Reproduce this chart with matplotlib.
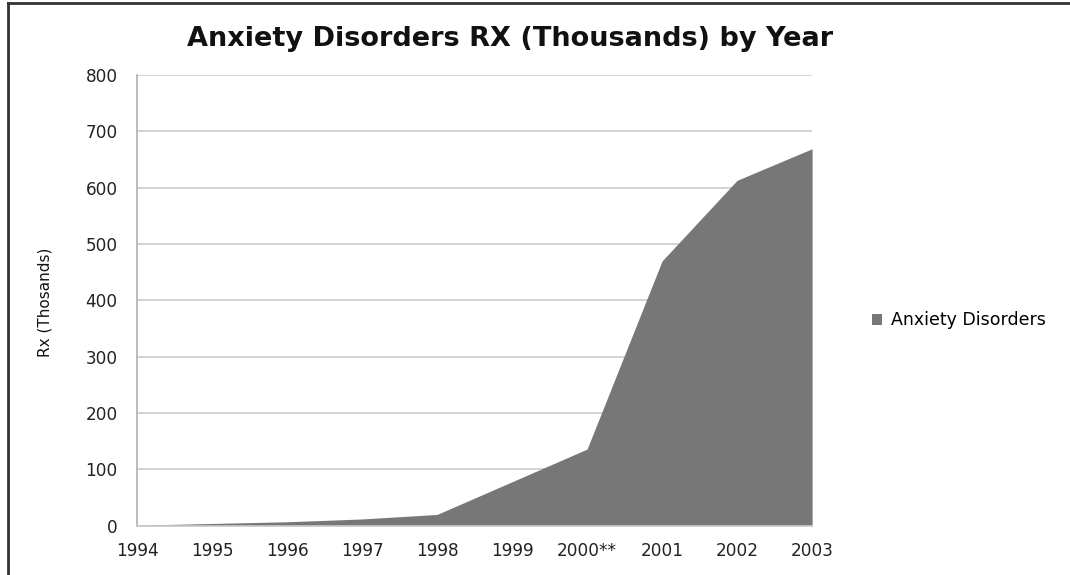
import matplotlib
matplotlib.use("Agg")
import matplotlib.pyplot as plt
from matplotlib.lines import Line2D
from matplotlib.patches import Patch

years = ["1994", "1995", "1996", "1997", "1998", "1999", "2000**", "2001", "2002", "2003"]
anxiety = [1, 4, 7, 12, 20, 78, 136, 470, 613, 669]
y_ticks = [0, 100, 200, 300, 400, 500, 600, 700, 800]

fig = plt.figure(figsize=(10.7, 5.75), dpi=100)
ax = fig.add_axes([0.128, 0.0857, 0.631, 0.784])

x = list(range(len(years)))
ax.fill_between(x, 0, anxiety, color="#777777", linewidth=0, zorder=2)
ax.set_xlim(0, len(years) - 1)
ax.set_ylim(0, 800)
ax.set_yticks(y_ticks)
ax.set_xticks(x)
ax.set_xticklabels(years)
for lbl in ax.get_xticklabels() + ax.get_yticklabels():
    lbl.set_fontfamily("DejaVu Sans")
    lbl.set_fontsize(12.2)
    lbl.set_color("#222222")
ax.tick_params(axis="both", length=0)
ax.tick_params(axis="y", pad=14)
ax.tick_params(axis="x", pad=12)
ax.grid(axis="y", color="#cccccc", linewidth=1.2, zorder=0)
for s in ["top", "right"]:
    ax.spines[s].set_visible(False)
ax.spines["left"].set_color("#b0b0b0")
ax.spines["bottom"].set_color("#cccccc")
ax.spines["left"].set_linewidth(1.2)
ax.spines["bottom"].set_linewidth(1.2)

fig.text(45 / 1070, 1 - 302 / 575, "Rx (Thosands)", rotation=90,
         ha="center", va="center", fontsize=11,
         family=["Liberation Sans Narrow", "DejaVu Sans"], color="#111111")

fig.text(0.477, 0.933, "Anxiety Disorders RX (Thousands) by Year",
         ha="center", va="center", fontsize=19.5, fontweight="bold",
         family="DejaVu Sans", color="#111111")

handles = [Patch(facecolor="#777777", edgecolor="none")]
fig.legend(handles, ["Anxiety Disorders"], loc="center left",
           bbox_to_anchor=(0.8, 0.443), frameon=False,
           prop={"family": "DejaVu Sans", "size": 12.5},
           handlelength=0.6, handleheight=0.6, handletextpad=0.5)

# outer chart border (top and left visible)
fig.add_artist(Line2D([0.0075, 1.0], [0.995, 0.995], color="#333333", linewidth=2,
                      transform=fig.transFigure))
fig.add_artist(Line2D([0.0075, 0.0075], [0.0, 0.995], color="#333333", linewidth=2,
                      transform=fig.transFigure))

fig.savefig("out.png", dpi=100)
